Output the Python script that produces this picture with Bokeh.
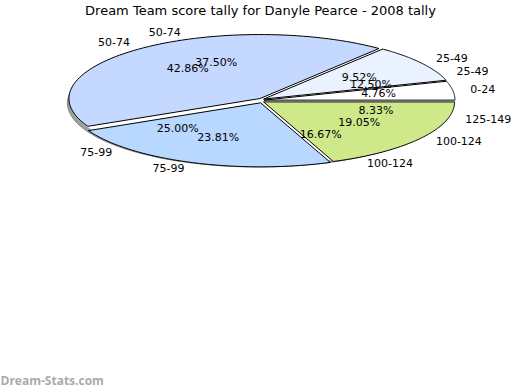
import numpy as np
from bokeh.plotting import figure
from bokeh.models import Range1d
from bokeh.core.properties import value
from bokeh.embed import file_html
from bokeh.resources import INLINE

# ---- data ----
categories = ["0-24", "25-49", "50-74", "75-99", "100-124", "125-149"]
series_a = [1, 2, 9, 5, 4, 0]   # visible (front) pie, total 21
series_b = [0, 3, 9, 6, 4, 2]   # second series, total 24
colors = ["#ffffff", "#eaf1ff", "#c5d8ff", "#b8d8ff", "#cfe98a", "#e2f2b8"]
title_text = "Dream Team score tally for Danyle Pearce - 2008 tally"
watermark = "Dream-Stats.com"

# ---- geometry (pixel-like data coordinates) ----
CX, CY, RX, RY = 261.0, 100.0, 191.0, 64.0
EXPLODE = 2.5

W, H = 520, 390
p = figure(width=W, height=H, output_backend="svg", toolbar_location=None,
           x_range=Range1d(0, W), y_range=Range1d(H, 0),
           min_border=0, outline_line_color=None)
p.axis.visible = False
p.grid.visible = False
p.background_fill_color = "white"
p.border_fill_color = "white"


def slices(vals):
    tot = float(sum(vals))
    out = []
    start = 0.0
    for i, v in enumerate(vals):
        ang = 360.0 * v / tot
        out.append((i, start, start + ang, v / tot * 100.0))
        start += ang
    return out


# shadow + base
t = np.linspace(0, 2 * np.pi, 200)
p.patch(CX - 3 + RX * np.cos(t), CY + 2.5 + RY * np.sin(t), fill_color="#a0a0a0",
        line_color="#808080", line_width=1)
p.patch(CX + RX * np.cos(t), CY + RY * np.sin(t), fill_color="white", line_color=None)

xs, ys, fc = [], [], []
for i, a0, a1, pct in slices(series_a):
    if a1 - a0 <= 0:
        continue
    mid = np.radians((a0 + a1) / 2)
    ox = CX + EXPLODE * np.cos(mid)
    oy = CY - EXPLODE * np.sin(mid)
    th = np.radians(np.linspace(a0, a1, 80))
    xs.append(np.concatenate([[ox], ox + RX * np.cos(th), [ox]]))
    ys.append(np.concatenate([[oy], oy - RY * np.sin(th), [oy]]))
    fc.append(colors[i])
p.patches(xs, ys, fill_color=fc, line_color="black", line_width=1)

# labels
rx_, ry_, rt_, lx_, ly_, lt_, px, py, pt = [], [], [], [], [], [], [], [], []
for vals in (series_a, series_b):
    for i, a0, a1, pct in slices(vals):
        if a1 - a0 <= 0:
            continue
        mid = np.radians((a0 + a1) / 2)
        ax = CX + 1.105 * RX * np.cos(mid)
        ay = CY - 1 - 1.15 * RY * np.sin(mid)
        if np.cos(mid) >= 0:
            rx_.append(ax); ry_.append(ay); rt_.append(categories[i])
        else:
            lx_.append(ax); ly_.append(ay); lt_.append(categories[i])
        px.append(CX + 0.62 * RX * np.cos(mid))
        py.append(CY - 0.5 - 0.63 * RY * np.sin(mid))
        pt.append("%.2f%%" % pct)

common = dict(text_font=value("DejaVu Sans"), text_font_size="11px",
              text_baseline="middle", text_color="black")
p.text(rx_, ry_, text=rt_, text_align="left", **common)
p.text(lx_, ly_, text=lt_, text_align="right", **common)
p.text(px, py, text=pt, text_align="center", **common)

p.text([260], [10], text=[title_text], text_font=value("DejaVu Sans"), text_font_size="13px",
       text_align="center", text_baseline="middle", text_color="black")
p.text([0], [380], text=[watermark], text_font=value("Open Sans"), text_font_size="12px",
       text_font_style="bold", text_align="left", text_baseline="middle", text_color="#aaaaaa")

open("out.html", "w").write(file_html(p, INLINE))
